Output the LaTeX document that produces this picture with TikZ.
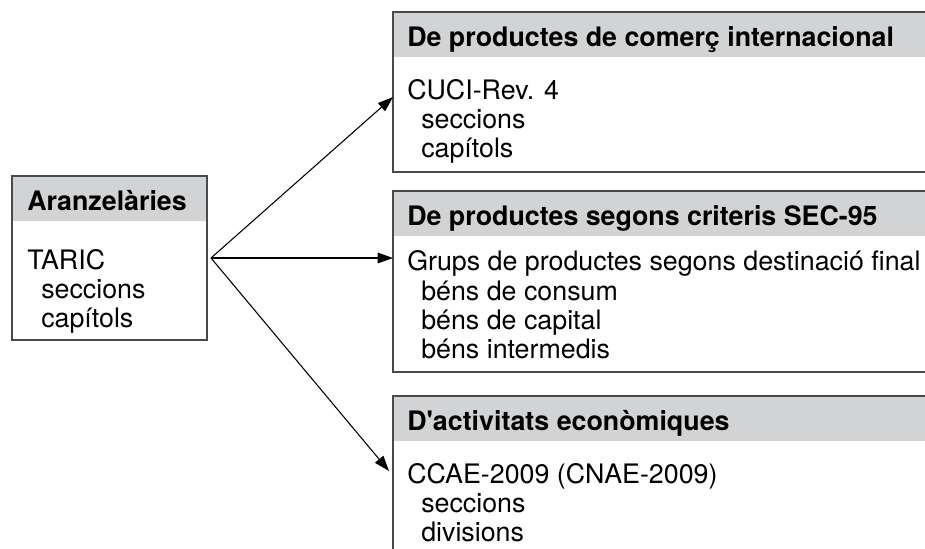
\documentclass[tikz,border=0pt]{standalone}
\usepackage{fontspec}
\setmainfont{TeX Gyre Heros}
\usetikzlibrary{arrows.meta}
\definecolor{hdrgray}{HTML}{D1D3D4}
\definecolor{framegray}{HTML}{4A4A4A}
\begin{document}
\begin{tikzpicture}[x=0.75pt,y=-0.75pt,
  boxframe/.style={draw=framegray, line width=1.1pt, anchor=north west, inner sep=0pt, outer sep=0pt},
  hdrband/.style={fill=hdrgray, anchor=north west, inner sep=0pt, outer sep=0pt, minimum height=34pt},
  htext/.style={anchor=base west, inner sep=0pt, font=\bfseries\fontsize{20.1}{22}\selectfont},
  btext/.style={anchor=base west, inner sep=0pt, font=\fontsize{20.1}{22}\selectfont},
  conn/.style={line width=0.8pt, -{Triangle[length=11.5pt,width=8pt]}}]
\useasboundingbox (0,0) rectangle (925,549);
\clip (0,0) rectangle (925,549);
% left box
\node[hdrband, minimum width=146.25pt] (lh) at (12,176) {};
\node[boxframe, minimum width=146.25pt, minimum height=123pt] (lb) at (12,176) {};
\node[htext] (lt) at (27,211) {Aranzelàries};
\node[btext] (l1) at (27,269) {TARIC};
\node[btext] (l2) at (41,298) {seccions};
\node[btext] (l3) at (41,327) {capítols};
% box 1
\node[hdrband, minimum width=420pt] (ah) at (393,12) {};
\node[boxframe, minimum width=420pt, minimum height=120pt] (ab) at (393,12) {};
\node[htext] (at) at (407,47) {De productes de comerç internacional};
\node[btext] (a1) at (407,100) {CUCI-Rev. 4};
\node[btext] (a2) at (421,129) {seccions};
\node[btext] (a3) at (421,158) {capítols};
% box 2
\node[hdrband, minimum width=420pt] (bh) at (393,191) {};
\node[boxframe, minimum width=420pt, minimum height=135.75pt] (bb) at (393,191) {};
\node[htext] (bt) at (407,225) {De productes segons criteris SEC-95};
\node[btext] (b1) at (407,271) {Grups de productes segons destinació final};
\node[btext] (b2) at (421,300) {béns de consum};
\node[btext] (b3) at (421,329) {béns de capital};
\node[btext] (b4) at (421,358) {béns intermedis};
% box 3
\node[hdrband, minimum width=420pt] (ch) at (393,396) {};
\node[boxframe, minimum width=420pt, minimum height=150pt] (cb) at (393,396) {};
\node[htext] (ct) at (407,430) {D\textquotesingle activitats econòmiques};
\node[btext] (c1) at (407,483) {CCAE-2009 (CNAE-2009)};
\node[btext] (c2) at (421,512) {seccions};
\node[btext] (c3) at (421,541) {divisions};
% connectors
\coordinate (src) at (211,258);
\coordinate (t1) at (393,97);
\coordinate (t2) at (393,258);
\coordinate (t3) at (389,471);
\draw[conn] (src) -- (t1);
\draw[conn] (src) -- (t2);
\draw[conn] (src) -- (t3);
\end{tikzpicture}
\end{document}
